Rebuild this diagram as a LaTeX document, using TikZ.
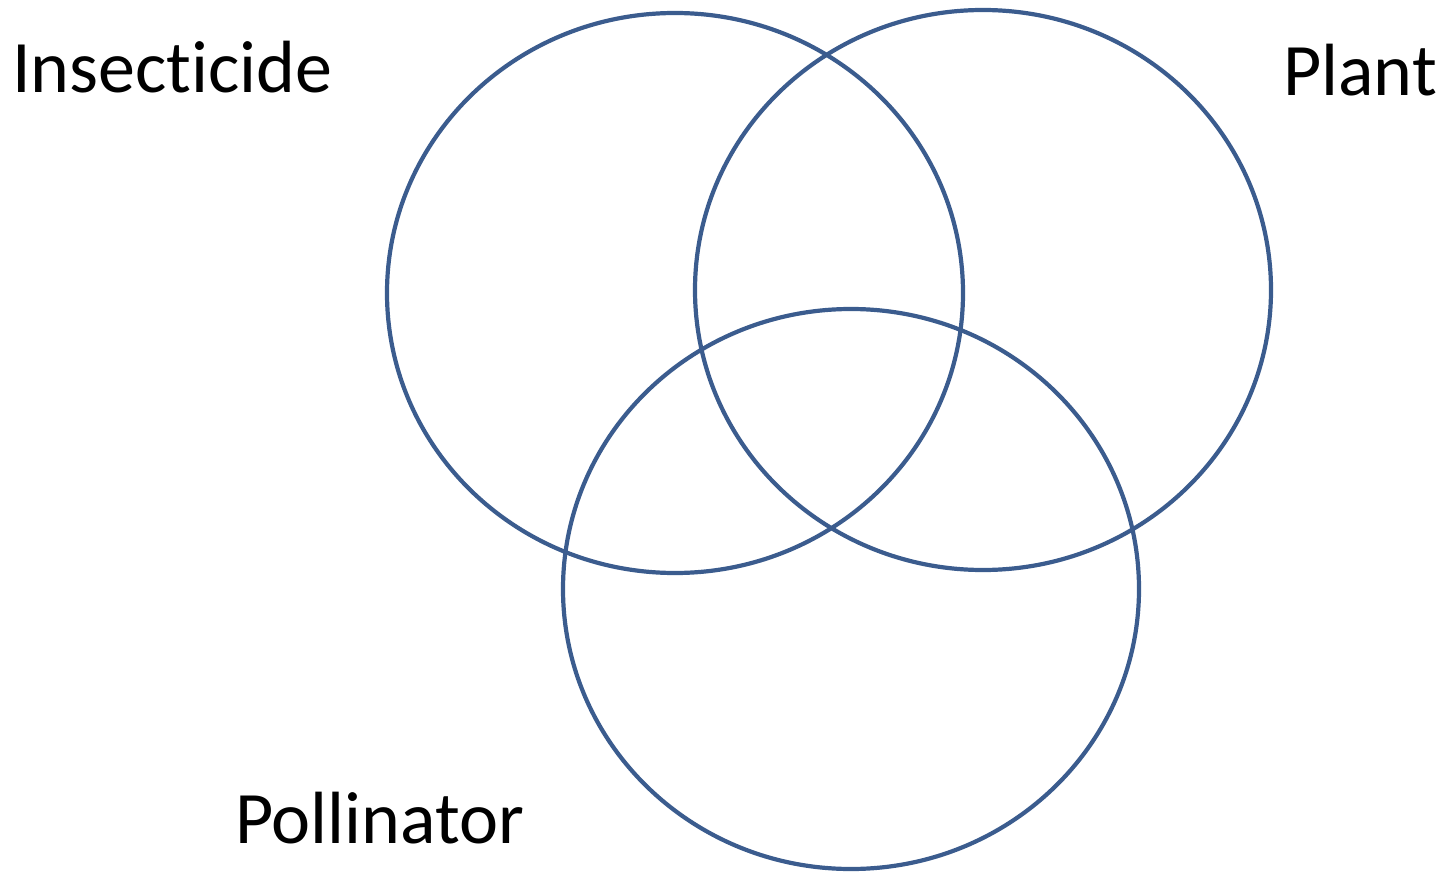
\documentclass[tikz,border=0pt]{standalone}
\usepackage{fontspec}
\setmainfont[Ligatures=NoCommon]{Carlito}
\usetikzlibrary{shapes.geometric}
\definecolor{vennblue}{HTML}{3B5C8E}
\begin{document}
\begin{tikzpicture}[x=1pt,y=-1pt,
  venn/.style={draw=vennblue, line width=4.2pt, ellipse, inner sep=0pt, minimum width=576pt, minimum height=560pt},
  lbl/.style={anchor=base west, inner sep=0pt, font=\fontsize{74}{84}\selectfont}]
\useasboundingbox (0,0) rectangle (1449,872);
\node[venn] (insect) at (675,293) {};
\node[venn] (plant) at (983,290) {};
\node[venn] (poll) at (851,589) {};
\node[lbl] (tinsect) at (12,93) {Insect\kern0pt icide};
\node[lbl] (tplant) at (1283,96) {Plant};
\node[lbl] (tpoll) at (235,843) {Pollinator};
\end{tikzpicture}
\end{document}
